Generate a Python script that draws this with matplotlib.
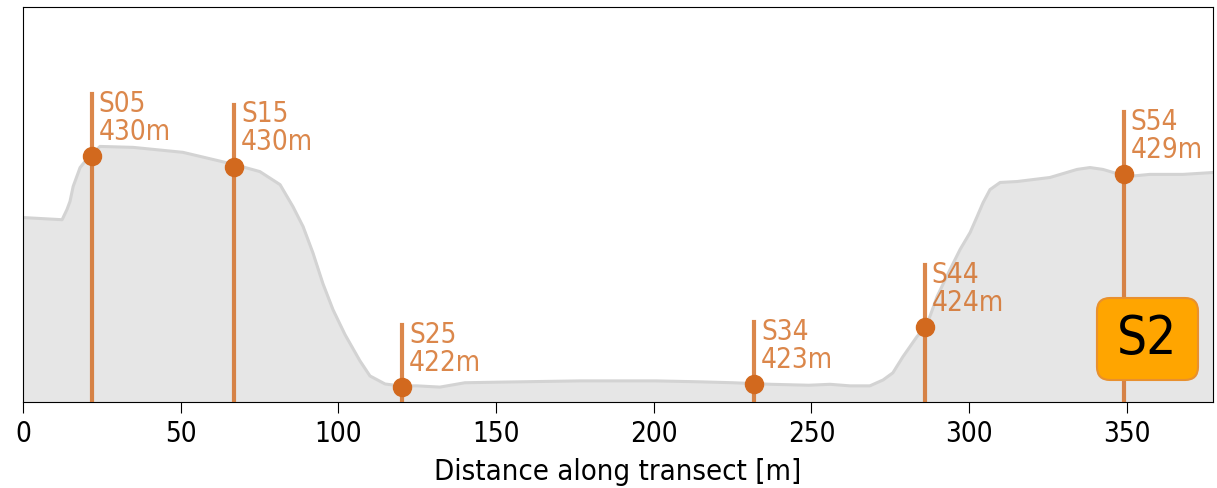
import matplotlib
matplotlib.use('Agg')
import matplotlib.pyplot as plt
from matplotlib.patches import FancyBboxPatch

plt.rcParams['font.stretch'] = 'condensed'

# elevation profile along the transect
dist = [0, 12.4, 13.95, 14.9, 15.9, 18.1, 19.7, 21.2, 24.4, 34.9, 50.7, 66.9,
        75.1, 81.5, 85.6, 88.8, 91.9, 95.1, 98.3, 102.1, 106.8, 110.0, 114.8,
        119.5, 124.9, 132.2, 140.1, 151.2, 176.6, 200.7, 214.6, 225.1, 237.2,
        249.2, 255.9, 262.2, 268.5, 272.7, 275.8, 279.0, 283.4, 286.6, 289.8,
        293.9, 297.1, 300.3, 302.5, 304.4, 306.6, 309.8, 315.2, 325.6, 334.2,
        338.3, 342.4, 350.0, 357.3, 367.8, 377.3]
elev = [427.92, 427.85, 428.18, 428.44, 428.92, 429.53, 429.73, 429.89, 430.21,
        430.18, 430.02, 429.63, 429.40, 428.98, 428.27, 427.63, 426.79, 425.79,
        424.95, 424.15, 423.31, 422.82, 422.56, 422.50, 422.50, 422.46, 422.60,
        422.62, 422.66, 422.66, 422.63, 422.60, 422.55, 422.52, 422.55, 422.50,
        422.50, 422.69, 422.92, 423.44, 424.08, 424.47, 425.37, 426.24, 426.89,
        427.44, 427.95, 428.40, 428.82, 429.05, 429.08, 429.21, 429.47, 429.53,
        429.47, 429.24, 429.31, 429.31, 429.37]

# stations
st_names = ['S05', 'S15', 'S25', 'S34', 'S44', 'S54']
st_dist = [21.8, 66.9, 120.2, 231.8, 285.9, 349.0]
st_elev = [429.89, 429.56, 422.45, 422.55, 424.40, 429.31]

col = '#D2691E'
ymin, ymax = 421.98, 434.7

fig = plt.figure(figsize=(12.17, 4.88), dpi=100)
ax = fig.add_axes([23/1217, 1-402/488, 1190/1217, 395/488])

ax.fill_between(dist, elev, ymin, color='#E6E6E6', zorder=1)
ax.plot(dist, elev, color='#D3D3D3', lw=2.2, zorder=2)

for n, d, e in zip(st_names, st_dist, st_elev):
    ax.plot([d, d], [ymin, e + 2], color=col, alpha=0.8, lw=3, zorder=3)
    ax.plot(d, e, 'o', color=col, ms=13, zorder=4)
    ax.annotate('%s\n%dm' % (n, round(e)), (d, e + 2), xytext=(5, 3),
                textcoords='offset points', ha='left', va='top',
                color=col, alpha=0.8, fontsize=20, linespacing=1.0)

# S2 badge
asp = 1190 / 395
box = FancyBboxPatch((0.9025, 0.0557), 0.0849, 0.2076,
                     boxstyle='round,pad=0,rounding_size=0.011',
                     mutation_aspect=asp, transform=ax.transAxes,
                     facecolor='orange', edgecolor='#E8902E', lw=1.5, zorder=5)
ax.add_patch(box)
ax.text(0.945, 0.16, 'S2', transform=ax.transAxes, fontsize=38,
        ha='center', va='center', zorder=6)

ax.set_xlim(0, 377.3)
ax.set_ylim(ymin, ymax)
ax.set_yticks([])
ax.set_xticks(range(0, 351, 50))
ax.tick_params(axis='x', labelsize=20, length=8, pad=5)
ax.set_xlabel('Distance along transect [m]', fontsize=21, labelpad=7)

fig.savefig('out.png', dpi=100)
